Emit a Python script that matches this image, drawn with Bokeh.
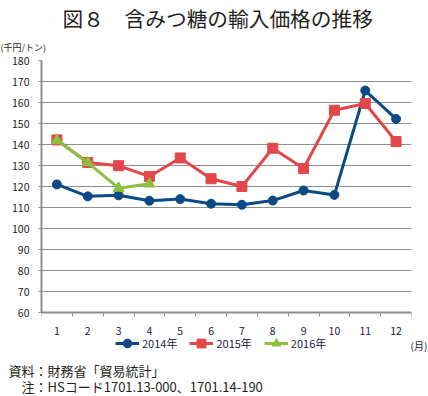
from bokeh.plotting import figure
from bokeh.models import Range1d, FixedTicker, Legend, LegendItem, Title, Label
from bokeh.embed import file_html
from bokeh.resources import INLINE

months = list(range(1, 13))
month_labels = [str(m) for m in months]
y2014 = [121.0, 115.3, 115.8, 113.2, 114.0, 111.8, 111.3, 113.3, 118.1, 116.0, 165.7, 152.2]
y2015 = [142.2, 131.4, 129.9, 124.8, 133.6, 123.7, 120.0, 138.2, 128.6, 156.3, 159.5, 141.4]
months2016 = [1, 2, 3, 4]
y2016 = [141.9, 131.4, 119.2, 121.3]
y_ticks = list(range(60, 181, 10))

title_text = "図８　含みつ糖の輸入価格の推移"
unit_text = "(千円/トン)"
month_unit = "(月)"
note1 = "資料：財務省「貿易統計」"
note2 = "注：HSコード1701.13-000、1701.14-190"

FONT = "Noto Sans CJK JP"
BLUE = "#0b4a85"
RED = "#e2474a"
GREEN = "#8cc03e"
GRID = "#8f8f8f"
TXT = "#231f20"

# geometry (pixels): plot area from y=60 (value 180) to y=312 (value 60);
# the frame extends further down to hold the legend row.
W, H = 428, 396
TOP, AXIS_Y, FRAME_BOTTOM = 60, 312, 358
LEFT, RIGHT = 41, 17
y_min, y_max = min(y_ticks), max(y_ticks)
px_per_unit = (AXIS_Y - TOP) / (y_max - y_min)
y_low = y_min - (FRAME_BOTTOM - AXIS_Y) / px_per_unit

p = figure(width=W, height=H, x_range=Range1d(0.5, 12.5), y_range=Range1d(y_low, y_max),
           output_backend="svg", toolbar_location=None,
           min_border_left=LEFT, min_border_right=RIGHT, min_border_top=TOP,
           min_border_bottom=H - FRAME_BOTTOM)
p.outline_line_color = None
p.background_fill_color = "white"
p.border_fill_color = "white"

# main title (outermost)
p.title.text = title_text
p.title.align = "left"
p.title.offset = 21
p.title.text_font = FONT
p.title.text_font_size = "20.7px"
p.title.text_font_style = "normal"
p.title.text_color = TXT
p.title.standoff = 0

# unit label (closest to the frame)
p.add_layout(Title(text=unit_text, align="left", offset=-41, text_font=FONT,
                   text_font_size="9px", text_font_style="normal", text_color=TXT,
                   standoff=13), "above")

p.xgrid.grid_line_color = None
p.ygrid.grid_line_color = GRID
p.ygrid.grid_line_width = 1

p.xaxis.fixed_location = y_min
p.xaxis.ticker = FixedTicker(ticks=months, minor_ticks=[m - 0.5 for m in months] + [months[-1] + 0.5])
p.xaxis.major_label_overrides = {m: s for m, s in zip(months, month_labels)}
p.xaxis.major_tick_line_color = None
p.xaxis.minor_tick_in = 0
p.xaxis.minor_tick_out = 4
p.xaxis.minor_tick_line_color = GRID
p.xaxis.axis_line_color = GRID
p.xaxis.axis_line_width = 2
p.xaxis.major_label_standoff = 8
p.xaxis.major_label_text_font = FONT
p.xaxis.major_label_text_font_size = "10.5px"
p.xaxis.major_label_text_color = "#1c2238"

p.yaxis.bounds = (y_min, y_max)
p.yaxis.ticker = FixedTicker(ticks=y_ticks)
p.yaxis.minor_tick_line_color = None
p.yaxis.major_tick_in = 0
p.yaxis.major_tick_out = 3
p.yaxis.major_tick_line_color = GRID
p.yaxis.axis_line_color = GRID
p.yaxis.axis_line_width = 2
p.yaxis.major_label_standoff = 9
p.yaxis.major_label_text_font = FONT
p.yaxis.major_label_text_font_size = "10.5px"
p.yaxis.major_label_text_color = "#1c1c1c"

l1 = p.line(months, y2014, line_color=BLUE, line_width=3)
s1 = p.scatter(months, y2014, marker="circle", size=9, fill_color=BLUE, line_color=BLUE)
l2 = p.line(months, y2015, line_color=RED, line_width=3)
s2 = p.scatter(months, y2015, marker="square", size=10, fill_color=RED, line_color=RED)
l3 = p.line(months2016, y2016, line_color=GREEN, line_width=3)
s3 = p.scatter(months2016, y2016, marker="triangle", size=11, fill_color=GREEN, line_color=GREEN)

LEG_H = 22
legend = Legend(items=[LegendItem(label="2014年", renderers=[l1, s1]),
                       LegendItem(label="2015年", renderers=[l2, s2]),
                       LegendItem(label="2016年", renderers=[l3, s3])],
                orientation="horizontal", location=(74, FRAME_BOTTOM - (343 + LEG_H // 2)),
                glyph_width=24, glyph_height=LEG_H, label_standoff=3, spacing=12,
                padding=0, margin=0, border_line_color=None, background_fill_alpha=0,
                label_text_font=FONT, label_text_font_size="11px", label_text_color="#1c2238",
                label_height=12)
p.add_layout(legend, "center")

p.add_layout(Label(x=-1, y=FRAME_BOTTOM - 345, x_units="screen", y_units="screen", text=month_unit,
                   text_font=FONT, text_font_size="10px", text_color="#1c2238",
                   text_align="left", text_baseline="middle"), "right")

p.add_layout(Title(text=note1 + "\n\u3000" + note2, align="left", offset=-33, text_font=FONT,
                   text_font_size="13px", text_font_style="normal", text_color=TXT,
                   text_line_height=0.894, standoff=0), "below")

open("out.html", "w").write(file_html(p, INLINE))
